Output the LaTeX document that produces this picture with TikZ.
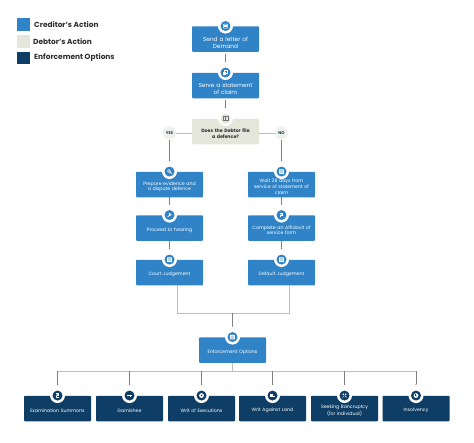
\documentclass[tikz,border=0pt]{standalone}
\usepackage{fontspec}
\setmainfont{Poppins}
\usetikzlibrary{arrows.meta}
\definecolor{cblue}{HTML}{3083C6}
\definecolor{cgrey}{HTML}{E4E6DA}
\definecolor{cnavy}{HTML}{0E3E66}
\definecolor{cline}{HTML}{B9BEC2}
\definecolor{ctxt}{HTML}{2B2F33}
\tikzset{x=1pt,y=-1pt,
  boxbase/.style={minimum width=67pt,minimum height=25.5pt,rounded corners=0.8pt,inner sep=1pt,align=center,text width=65pt},
  down/.style={execute at begin node={\rule{0pt}{#1}}},
  bigt/.style={font=\fontsize{5.8}{7}\selectfont,down=11.5pt},
  smallt/.style={font=\fontsize{4.7}{5.6}\selectfont,down=8pt},
  cbox/.style={boxbase,fill=cblue,text=white},
  dbox/.style={boxbase,fill=cgrey,text=ctxt},
  ebox/.style={boxbase,fill=cnavy,text=white},
  legsq/.style={minimum size=12.5pt,inner sep=0pt},
  legtxt/.style={anchor=west,inner sep=0pt,text=ctxt,font=\fontsize{7.4}{9}\selectfont\bfseries},
  ring/.style={circle,minimum size=15pt,inner sep=0pt,fill=white},
  disc/.style={circle,minimum size=10pt,inner sep=0pt},
  yn/.style={circle,minimum size=13pt,inner sep=0pt,fill=cgrey!55,text=cnavy,font=\fontsize{4}{4}\selectfont\bfseries},
  conn/.style={draw=cline,line width=0.9pt},
  arr/.style={draw=black!50,line width=0.4pt,-{Latex[length=1.4pt,width=1.4pt]},shorten >=10pt},
}
\newcommand{\badge}[4]{% name, colour, box node, icon
  \node[ring] (r#1) at (#3.north) {};
  \node[disc,fill=#2] (d#1) at (#3.north) {};
  \begin{scope}[shift={(d#1.center)}]
    \def\bgc{#2}
    #4
  \end{scope}
}
\colorlet{ic}{white}
\newcommand{\icdoc}{\draw[ic,line width=0.5pt,rounded corners=0.4pt] (-2.2,-2) rectangle (2.2,2);\draw[ic,line width=0.35pt] (-1.2,-0.6)--(1.2,-0.6) (-1.2,0.6)--(1.2,0.6);}
\newcommand{\iccal}{\fill[ic,rounded corners=0.3pt] (-2.3,-2.2) rectangle (2.3,2.2);\fill[\bgc] (-1.6,-1) rectangle (1.6,-0.6) (-1.6,0) rectangle (1.6,0.4) (-1.6,1) rectangle (1.6,1.4);}
\newcommand{\icsearch}{\draw[ic,line width=0.6pt] (-0.5,-0.5) circle (1.5);\draw[ic,line width=0.7pt] (0.6,0.6)--(2.2,2.2);}
\newcommand{\icclaim}{\draw[ic,line width=0.5pt] (-1,-2) rectangle (2.2,1);\fill[ic] (-2.2,-0.5) rectangle (0.8,2.2);}
\newcommand{\ichammer}{\draw[ic,line width=0.7pt] (-2,2)--(0.8,-0.8);\draw[ic,line width=1.3pt] (-0.4,-1.6)--(1.6,0.2);}
\newcommand{\icpage}{\fill[ic] (-1.8,-2.4) rectangle (1.8,2.4);\fill[\bgc] (-0.7,-0.8) circle (0.7);\fill[\bgc] (-1,0.8) rectangle (1,1.2);}
\newcommand{\icbook}{\draw[black!55,line width=0.45pt] (-2.4,-2) rectangle (2.4,2) (0,-2)--(0,2);}
\newcommand{\icgun}{\fill[ic] (-2.6,-1) rectangle (2.6,0.4);\fill[ic] (0.4,0.4) rectangle (1.6,1.8);}
\newcommand{\icring}{\fill[ic] (0,0) circle (2.4);\fill[\bgc] (0,0) circle (0.9);}
\newcommand{\icland}{\fill[ic] (-2.4,-1.8) rectangle (0.4,0.2);\fill[ic] (-2.4,0.6) rectangle (2.4,1.9);}
\newcommand{\icpair}{\fill[ic] (-1.2,-1.3) circle (0.9);\fill[ic] (1.2,-1.3) circle (0.9);\draw[ic,line width=0.5pt] (-2,1.8)--(-0.4,0.2) (2,1.8)--(0.4,0.2);}
\newcommand{\icins}{\fill[ic] (0,0) circle (2.4);\fill[\bgc] (-0.6,-1.3) rectangle (0.2,0);\fill[\bgc] (0.2,0.6) circle (0.5);}
\begin{document}
\begin{tikzpicture}
\useasboundingbox (0,0) rectangle (474,442);
\fill[white] (0,0) rectangle (474,442);
% legend
\node[legsq,fill=cblue] (l1) at (23.5,24.5) {};
\node[legsq,fill=cgrey] (l2) at (23.5,41.5) {};
\node[legsq,fill=cnavy] (l3) at (23.5,58) {};
\node[legtxt] (t1) at (34,24.5) {Creditor’s Action};
\node[legtxt] (t2) at (33,41.5) {Debtor’s Action};
\node[legtxt] (t3) at (34,58) {Enforcement Options};
% boxes
\node[cbox,bigt] (a) at (225.5,39) {Send a letter of\\Demand};
\node[cbox,bigt] (b) at (225.5,85.5) {Serve a statement\\of claim};
\node[dbox,smallt,font=\fontsize{4.7}{5.6}\selectfont\bfseries] (c) at (225.5,131.5) {Does the Debtor file\\a defence?};
\node[yn] (yes) at (169.5,133) {YES};
\node[yn] (no) at (281.5,133) {NO};
\node[cbox,smallt] (l4) at (169.5,184.5) {Prepare evidence and\\a dispute defence};
\node[cbox,smallt] (l5) at (169.5,228) {Proceed to hearing};
\node[cbox,smallt] (l6) at (169.5,272.5) {Court Judgement};
\node[cbox,smallt] (r4) at (281.5,184.5) {Wait 28 days from\\service of statement of\\claim};
\node[cbox,smallt] (r5) at (281.5,228) {Complete an Affidavit of\\service form};
\node[cbox,smallt] (r6) at (281.5,272.5) {Default Judgement};
\node[cbox,smallt] (en) at (232.5,350) {Enforcement Options};
\foreach \n/\x/\t in {e1/57.5/Examination Summons,e2/129.5/Garnishee,e3/201.5/Writ of Executions,e4/272.5/Writ Against Land,e5/344.5/{Seeking Bancruptcy\\(for individual)},e6/416/Insolvency}
  \node[ebox,smallt] (\n) at (\x,408.5) {\t};
% connectors
\coordinate (jl) at (177,313);
\coordinate (jr) at (289,313);
\coordinate (jc) at (232.5,313);
\coordinate (h) at (232.5,371);
\draw[arr,shorten <=2pt] (a.south) -- (b.north);
\draw[arr,shorten <=2pt] (b.south) -- (c.north);
\draw[conn] (c.west |- yes) -- (yes);
\draw[conn] (c.east |- no) -- (no);
\draw[arr,shorten <=0.5pt] (yes) -- (l4.north);
\draw[arr,shorten <=0.5pt] (no) -- (r4.north);
\draw[arr] (l4.south) -- (l5.north);
\draw[arr] (l5.south) -- (l6.north);
\draw[arr] (r4.south) -- (r5.north);
\draw[arr] (r5.south) -- (r6.north);
\draw[conn] (l6.south -| jl) -- (jl) -- (jr) -- (r6.south -| jr);
\draw[arr] (jc) -- (en.north);
\draw[conn] (en.south) -- (h);
\draw[conn] (e1.north |- h) -- (e6.north |- h);
\foreach \n in {e1,e2,e3,e4,e5,e6} \draw[arr] (\n.north |- h) -- (\n.north);
% badges
\badge{a}{cblue}{a}{\icdoc}
\badge{b}{cblue}{b}{\icclaim}
\badge{c}{cgrey}{c}{\icbook}
\badge{l4}{cblue}{l4}{\icsearch}
\badge{l5}{cblue}{l5}{\ichammer}
\badge{l6}{cblue}{l6}{\iccal}
\badge{r4}{cblue}{r4}{\iccal}
\badge{r5}{cblue}{r5}{\icpage}
\badge{r6}{cblue}{r6}{\iccal}
\badge{en}{cblue}{en}{\iccal}
\badge{e1}{cnavy}{e1}{\icpage}
\badge{e2}{cnavy}{e2}{\icgun}
\badge{e3}{cnavy}{e3}{\icring}
\badge{e4}{cnavy}{e4}{\icland}
\badge{e5}{cnavy}{e5}{\icpair}
\badge{e6}{cnavy}{e6}{\icins}
\end{tikzpicture}
\end{document}
